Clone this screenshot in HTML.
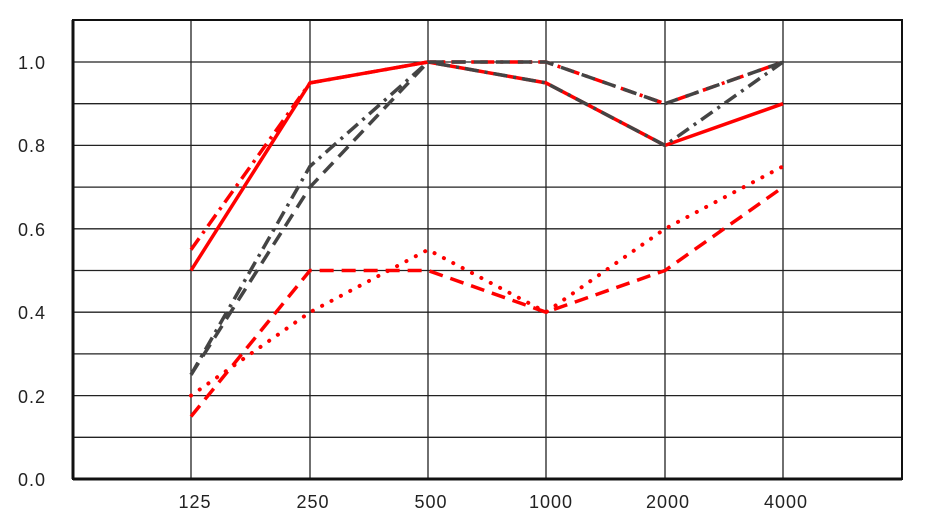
<!DOCTYPE html>
<html><head><meta charset="utf-8"><style>html,body{margin:0;padding:0;background:#fff;}svg{display:block}</style></head><body>
<svg width="940" height="527" viewBox="0 0 940 527" xmlns="http://www.w3.org/2000/svg" font-family="'Century Gothic','Liberation Sans',sans-serif">
<g stroke="#222" stroke-width="1.3">
<line x1="73" y1="62" x2="902" y2="62"/><line x1="73" y1="103.7" x2="902" y2="103.7"/><line x1="73" y1="145.4" x2="902" y2="145.4"/><line x1="73" y1="187.1" x2="902" y2="187.1"/><line x1="73" y1="228.8" x2="902" y2="228.8"/><line x1="73" y1="270.5" x2="902" y2="270.5"/><line x1="73" y1="312.2" x2="902" y2="312.2"/><line x1="73" y1="353.9" x2="902" y2="353.9"/><line x1="73" y1="395.6" x2="902" y2="395.6"/><line x1="73" y1="437.3" x2="902" y2="437.3"/>
<line x1="191" y1="20" x2="191" y2="479"/><line x1="310" y1="20" x2="310" y2="479"/><line x1="428" y1="20" x2="428" y2="479"/><line x1="546" y1="20" x2="546" y2="479"/><line x1="665" y1="20" x2="665" y2="479"/><line x1="783" y1="20" x2="783" y2="479"/>
</g>
<rect x="73" y="20" width="829" height="459" fill="none" stroke="#111" stroke-width="2"/>
<line x1="73" y1="479" x2="902" y2="479" stroke="#111" stroke-width="3"/>
<line x1="73" y1="20" x2="73" y2="479" stroke="#111" stroke-width="3"/>
<g fill="none" stroke-width="3.5" stroke-linejoin="round">
<polyline stroke="#f00" points="191,270.5 310,82.9 428,62 546,82.9 665,145.4 783,103.7"/>
<polyline stroke="#f00" stroke-dasharray="14,6,3,6" points="191,249.7 310,82.9 428,62 546,62 665,103.7 783,62"/>
<polyline stroke="#f00" stroke-dasharray="14,8" points="191,416.5 310,270.5 428,270.5 546,312.2 665,270.5 783,187.1"/>
<polyline stroke="#f00" stroke-width="4" stroke-dasharray="0.1,10.5" stroke-linecap="round" points="191,395.6 310,312.2 428,249.7 546,312.2 665,228.8 783,166.3"/>
<polyline stroke="#444" stroke-dasharray="14,8" points="191,374.8 310,187.1 428,62 546,62 665,103.7 783,62"/>
<polyline stroke="#444" stroke-dasharray="14,6,3,6" points="191,374.8 310,166.3 428,62 546,82.9 665,145.4 783,62"/>
</g>
<g font-size="18" fill="#222" text-anchor="end" letter-spacing="1">
<text x="46" y="69">1.0</text><text x="46" y="152">0.8</text><text x="46" y="236">0.6</text><text x="46" y="319">0.4</text><text x="46" y="403">0.2</text><text x="46" y="486">0.0</text>
</g>
<g font-size="18" fill="#222" text-anchor="middle" letter-spacing="1">
<text x="195" y="508">125</text><text x="313" y="508">250</text><text x="431" y="508">500</text><text x="551" y="508">1000</text><text x="668" y="508">2000</text><text x="786" y="508">4000</text>
</g>
</svg>
</body></html>
